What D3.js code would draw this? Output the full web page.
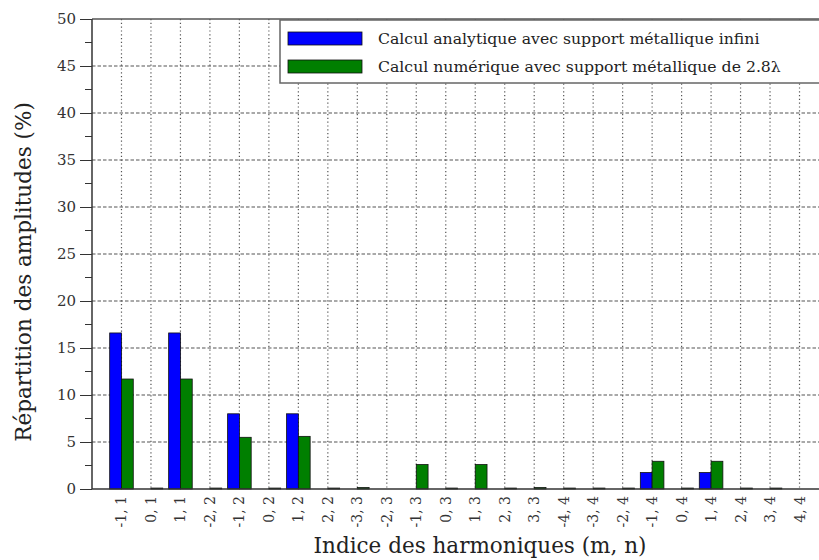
<!DOCTYPE html>
<html><head><meta charset="utf-8">
<script src="https://cdn.jsdelivr.net/npm/d3@7"></script>
<style>body{margin:0;background:#fff}svg{display:block}</style>
</head><body><svg id="c" width="819" height="560"></svg>
<script>
const categories = ["-1,1","0,1","1,1","-2,2","-1,2","0,2","1,2","2,2","-3,3","-2,3","-1,3","0,3","1,3","2,3","3,3","-4,4","-3,4","-2,4","-1,4","0,4","1,4","2,4","3,4","4,4"];
const analytique = [16.6,0,16.6,0,8.0,0,8.0,0,0,0,0,0,0,0,0,0,0,0,1.75,0,1.75,0,0,0];
const numerique = [11.7,0.1,11.7,0.1,5.5,0.1,5.6,0.1,0.15,0,2.6,0.1,2.6,0.1,0.15,0.1,0.1,0.1,2.95,0.1,2.95,0.1,0.1,0];
const seriesNames = ["Calcul analytique avec support métallique infini","Calcul numérique avec support métallique de 2.8λ"];
const yTicks = [0,5,10,15,20,25,30,35,40,45,50];
const yMinor = [2.5,7.5,12.5,17.5,22.5,27.5,32.5,37.5,42.5,47.5];
const colors = ["#0000ff","#007f00"];

const FONT = "'DejaVu Serif', serif";
const svg = d3.select("#c").style("font-family", FONT);
const L=92,T=19,B=489,R=829;
const x = d3.scaleLinear().domain([-1,categories.length]).range([L,R]);
const y = d3.scaleLinear().domain([0,50]).range([B,T]);
const bw = x(0.4)-x(0);

// grid
const g = svg.append("g");
g.selectAll(".vg").data(categories).join("line")
  .attr("x1",(d,i)=>x(i)).attr("x2",(d,i)=>x(i)).attr("y1",T).attr("y2",B)
  .attr("stroke","#555").attr("stroke-width",1.2).attr("stroke-dasharray","1.2,2.6");
g.selectAll(".hg").data(yTicks.slice(1,-1)).join("line")
  .attr("x1",L).attr("x2",R).attr("y1",d=>y(d)).attr("y2",d=>y(d))
  .attr("stroke","#555").attr("stroke-width",1.2).attr("stroke-dasharray","3.5,2");

// bars
[analytique,numerique].forEach((vals,s)=>{
  svg.append("g").selectAll("rect").data(vals).join("rect")
    .attr("x",(d,i)=>x(i)+(s===0?-bw:0)).attr("width",bw)
    .attr("y",d=>y(d)).attr("height",d=>B-y(d))
    .attr("fill",colors[s]).attr("stroke","#111").attr("stroke-width",d=>d>0?0.8:0);
});

// frame
svg.append("line").attr("x1",L).attr("x2",R).attr("y1",T).attr("y2",T).attr("stroke","#555").attr("stroke-width",1.5);
svg.append("line").attr("x1",L).attr("x2",R).attr("y1",B).attr("y2",B).attr("stroke","#333").attr("stroke-width",1.5);
svg.append("line").attr("x1",L).attr("x2",L).attr("y1",T).attr("y2",B).attr("stroke","#333").attr("stroke-width",1.5);

// y axis
const ya = d3.axisLeft(y).tickValues(yTicks).tickSize(12).tickPadding(4).tickFormat(d3.format("d"));
const yg = svg.append("g").attr("transform",`translate(${L},0)`).call(ya);
yg.attr("font-family", FONT);
yg.select(".domain").remove();
yg.selectAll("line").attr("stroke","#333");
yg.selectAll("text").style("font-size","15px").style("font-family",FONT).attr("fill","#333");
svg.append("g").selectAll("line").data(yMinor).join("line")
  .attr("x1",L-7).attr("x2",L).attr("y1",d=>y(d)).attr("y2",d=>y(d)).attr("stroke","#333");

// x labels
svg.append("g").selectAll("text").data(categories).join("text")
  .attr("transform",(d,i)=>`translate(${x(i)+5},${B+7}) rotate(-90)`)
  .attr("text-anchor","end").style("font-size","14px").style("font-family",FONT).attr("fill","#333")
  .text(d=>d.replace(",",", "));

// axis titles
svg.append("text").attr("x",480).attr("y",553).attr("text-anchor","middle")
  .style("font-size","21.5px").style("font-family",FONT).attr("fill","#222").text("Indice des harmoniques (m, n)");
svg.append("text").attr("transform","translate(31,272) rotate(-90)").attr("text-anchor","middle")
  .style("font-size","21.5px").style("font-family",FONT).attr("fill","#222").text("Répartition des amplitudes (%)");

// legend
const lg = svg.append("g");
lg.append("rect").attr("x",280).attr("y",20).attr("width",600).attr("height",63)
  .attr("fill","#fff").attr("stroke","#666").attr("stroke-width",1.5);
seriesNames.forEach((n,i)=>{
  lg.append("rect").attr("x",288).attr("y",32+i*28).attr("width",74).attr("height",13)
    .attr("fill",colors[i]).attr("stroke","#111").attr("stroke-width",0.8);
  lg.append("text").attr("x",378).attr("y",44+i*28).style("font-size","15.7px").style("font-family",FONT)
    .attr("fill","#222").text(n);
});
</script></body></html>
